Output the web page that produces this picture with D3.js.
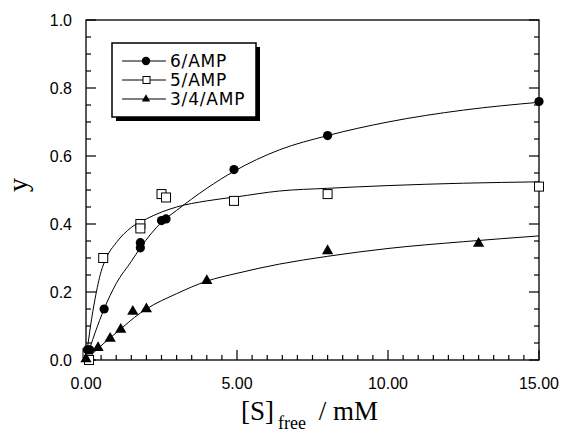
<!DOCTYPE html>
<html>
<head>
<meta charset="utf-8">
<script src="https://cdn.jsdelivr.net/npm/d3@7"></script>
<style>
  body { margin: 0; background: #fff; }
</style>
</head>
<body>
<script>
var w = 564;
var h = 433;
var margin = {left: 86, right: 25, top: 20, bottom: 73};

// x ticks / y ticks
var xTicks = [0, 5, 10, 15];
var xTickLabels = ["0.00", "5.00", "10.00", "15.00"];
var yTicks = [0, 0.2, 0.4, 0.6, 0.8, 1.0];
var yTickLabels = ["0.0", "0.2", "0.4", "0.6", "0.8", "1.0"];

var seriesNames = ["6/AMP", "5/AMP", "3/4/AMP"];

// measured points
var amp6X = [0.05, 0.12, 0.6, 1.8, 1.8, 2.5, 2.65, 4.9, 8, 15];
var amp6Y = [0.03, 0.03, 0.15, 0.33, 0.345, 0.41, 0.415, 0.56, 0.66, 0.76];
var amp5X = [0.05, 0.1, 0.57, 1.8, 1.8, 2.5, 2.65, 4.9, 8, 15];
var amp5Y = [0.02, 0.0, 0.30, 0.40, 0.387, 0.488, 0.478, 0.468, 0.488, 0.51];
var amp34X = [0, 0.4, 0.8, 1.15, 1.55, 2.0, 4.0, 8.0, 13.0];
var amp34Y = [0, 0.033, 0.06, 0.087, 0.14, 0.147, 0.23, 0.318, 0.34];

// fitted curves
var fit6X = [0, 0.3, 0.6, 1.0, 1.5, 1.8, 2.5, 3.0, 4.0, 4.9, 6.4, 8, 10, 12.5, 15];
var fit6Y = [0, 0.08, 0.15, 0.225, 0.29, 0.33, 0.405, 0.44, 0.505, 0.555, 0.618, 0.66, 0.70, 0.735, 0.758];
var fit5X = [0, 0.15, 0.3, 0.5, 0.67, 1.0, 1.5, 2.0, 2.5, 3.0, 4.0, 5.0, 6.4, 8, 10, 12.5, 15];
var fit5Y = [0, 0.1, 0.18, 0.26, 0.30, 0.345, 0.39, 0.415, 0.435, 0.45, 0.468, 0.48, 0.497, 0.505, 0.513, 0.52, 0.524];
var fit34X = [0, 0.4, 0.8, 1.2, 1.6, 2.0, 3.0, 4.0, 5.0, 6.4, 8, 10, 12.5, 15];
var fit34Y = [0, 0.034, 0.065, 0.095, 0.125, 0.15, 0.195, 0.232, 0.255, 0.282, 0.305, 0.328, 0.348, 0.365];

var xScale = d3.scaleLinear().domain([0, 15]).range([margin.left, w - margin.right]);
var yScale = d3.scaleLinear().domain([0, 1]).range([h - margin.bottom, margin.top]);

var x0 = xScale(0), x1 = xScale(15), y0 = yScale(0), y1 = yScale(1);

var svg = d3.select("body").append("svg")
    .attr("width", w)
    .attr("height", h);

// frame
svg.append("rect")
    .attr("x", x0).attr("y", y1)
    .attr("width", x1 - x0).attr("height", y0 - y1)
    .attr("fill", "none").attr("stroke", "#000").attr("stroke-width", 1.3);

// minor + major ticks
var xMinor = d3.range(0, 15.01, 0.5);
var yMinor = d3.range(0, 1.001, 0.05);

svg.append("g").selectAll("line")
    .data(xMinor)
    .enter().append("line")
    .attr("x1", function(d) { return xScale(d); })
    .attr("x2", function(d) { return xScale(d); })
    .attr("y1", y0)
    .attr("y2", function(d) { return Math.abs(d % 5) < 1e-6 ? y0 - 10 : y0 - 5; })
    .attr("stroke", "#000").attr("stroke-width", 1.2);

svg.append("g").selectAll("line")
    .data(yMinor)
    .enter().append("line")
    .attr("x1", x0)
    .attr("x2", function(d) { return Math.abs(Math.round(d * 100) % 20) < 1e-6 ? x0 + 10 : x0 + 5; })
    .attr("y1", function(d) { return yScale(d); })
    .attr("y2", function(d) { return yScale(d); })
    .attr("stroke", "#000").attr("stroke-width", 1.2);

svg.append("g").selectAll("line")
    .data(yMinor)
    .enter().append("line")
    .attr("x1", x1)
    .attr("x2", function(d) { return Math.abs(Math.round(d * 100) % 20) < 1e-6 ? x1 - 10 : x1 - 5; })
    .attr("y1", function(d) { return yScale(d); })
    .attr("y2", function(d) { return yScale(d); })
    .attr("stroke", "#000").attr("stroke-width", 1.2);

// tick labels
svg.append("g").selectAll("text")
    .data(xTicks)
    .enter().append("text")
    .attr("x", function(d) { return xScale(d); })
    .attr("y", y0 + 29)
    .attr("text-anchor", "middle")
    .style("font-family", "'Liberation Sans', Arial, sans-serif")
    .style("font-size", "16px")
    .text(function(d, i) { return xTickLabels[i]; });

svg.append("g").selectAll("text")
    .data(yTicks)
    .enter().append("text")
    .attr("x", x0 - 14)
    .attr("y", function(d) { return yScale(d) + 6; })
    .attr("text-anchor", "end")
    .style("font-family", "'Liberation Sans', Arial, sans-serif")
    .style("font-size", "16px")
    .text(function(d, i) { return yTickLabels[i]; });

// axis titles
var xt = svg.append("text")
    .attr("x", 241)
    .attr("y", 420)
    .style("font-family", "'Liberation Serif', 'Times New Roman', serif")
    .style("font-size", "27px");
xt.append("tspan").text("[S]");
xt.append("tspan").attr("dy", 9).attr("dx", 4).style("font-size", "18px").text("free");
xt.append("tspan").attr("dy", -9).attr("dx", 6).text(" / mM");

svg.append("text")
    .attr("transform", "translate(27,185) rotate(-90)")
    .attr("text-anchor", "middle")
    .style("font-family", "'Liberation Serif', 'Times New Roman', serif")
    .style("font-size", "28px")
    .text("y");

// curves
var line = d3.line()
    .x(function(d) { return xScale(d[0]); })
    .y(function(d) { return yScale(d[1]); })
    .curve(d3.curveMonotoneX);

function zip(a, b) { return a.map(function(v, i) { return [v, b[i]]; }); }

[[fit6X, fit6Y], [fit5X, fit5Y], [fit34X, fit34Y]].forEach(function(f) {
    svg.append("path")
        .datum(zip(f[0], f[1]))
        .attr("d", line)
        .attr("fill", "none")
        .attr("stroke", "#000")
        .attr("stroke-width", 1);
});

// markers
var tri = d3.symbol().type(d3.symbolTriangle).size(55);

svg.append("g").selectAll("rect")
    .data(zip(amp5X, amp5Y))
    .enter().append("rect")
    .attr("x", function(d) { return xScale(d[0]) - 4.5; })
    .attr("y", function(d) { return yScale(d[1]) - 4.5; })
    .attr("width", 9).attr("height", 9)
    .attr("fill", "#fff").attr("stroke", "#000").attr("stroke-width", 1);

svg.append("g").selectAll("circle")
    .data(zip(amp6X, amp6Y))
    .enter().append("circle")
    .attr("cx", function(d) { return xScale(d[0]); })
    .attr("cy", function(d) { return yScale(d[1]); })
    .attr("r", 4.6)
    .attr("fill", "#000");

svg.append("g").selectAll("path")
    .data(zip(amp34X, amp34Y))
    .enter().append("path")
    .attr("d", tri)
    .attr("transform", function(d) { return "translate(" + xScale(d[0]) + "," + (yScale(d[1]) - 1) + ")"; })
    .attr("fill", "#000");

// legend
var lg = {x: 112, y: 43, w: 144, h: 74};
svg.append("rect")
    .attr("x", lg.x + 4).attr("y", lg.y + 4)
    .attr("width", lg.w).attr("height", lg.h)
    .attr("fill", "#000");
svg.append("rect")
    .attr("x", lg.x).attr("y", lg.y)
    .attr("width", lg.w).attr("height", lg.h)
    .attr("fill", "#fff").attr("stroke", "#000").attr("stroke-width", 1.5);

var rowY = [61, 80, 99];
seriesNames.forEach(function(name, i) {
    svg.append("line")
        .attr("x1", 122).attr("x2", 166)
        .attr("y1", rowY[i]).attr("y2", rowY[i])
        .attr("stroke", "#000").attr("stroke-width", 1);
    if (i == 0) {
        svg.append("circle").attr("cx", 146).attr("cy", rowY[i]).attr("r", 4.2).attr("fill", "#000");
    } else if (i == 1) {
        svg.append("rect").attr("x", 143).attr("y", rowY[i] - 3.5).attr("width", 7).attr("height", 7)
            .attr("fill", "#fff").attr("stroke", "#000").attr("stroke-width", 1);
    } else {
        svg.append("path").attr("d", d3.symbol().type(d3.symbolTriangle).size(30))
            .attr("transform", "translate(146," + rowY[i] + ")").attr("fill", "#000");
    }
    svg.append("text")
        .attr("x", 170)
        .attr("y", rowY[i] + 6)
        .style("font-family", "'DejaVu Sans', sans-serif")
        .style("font-size", "17px")
        .style("letter-spacing", "0.8px")
        .text(name);
});
</script>
</body>
</html>
